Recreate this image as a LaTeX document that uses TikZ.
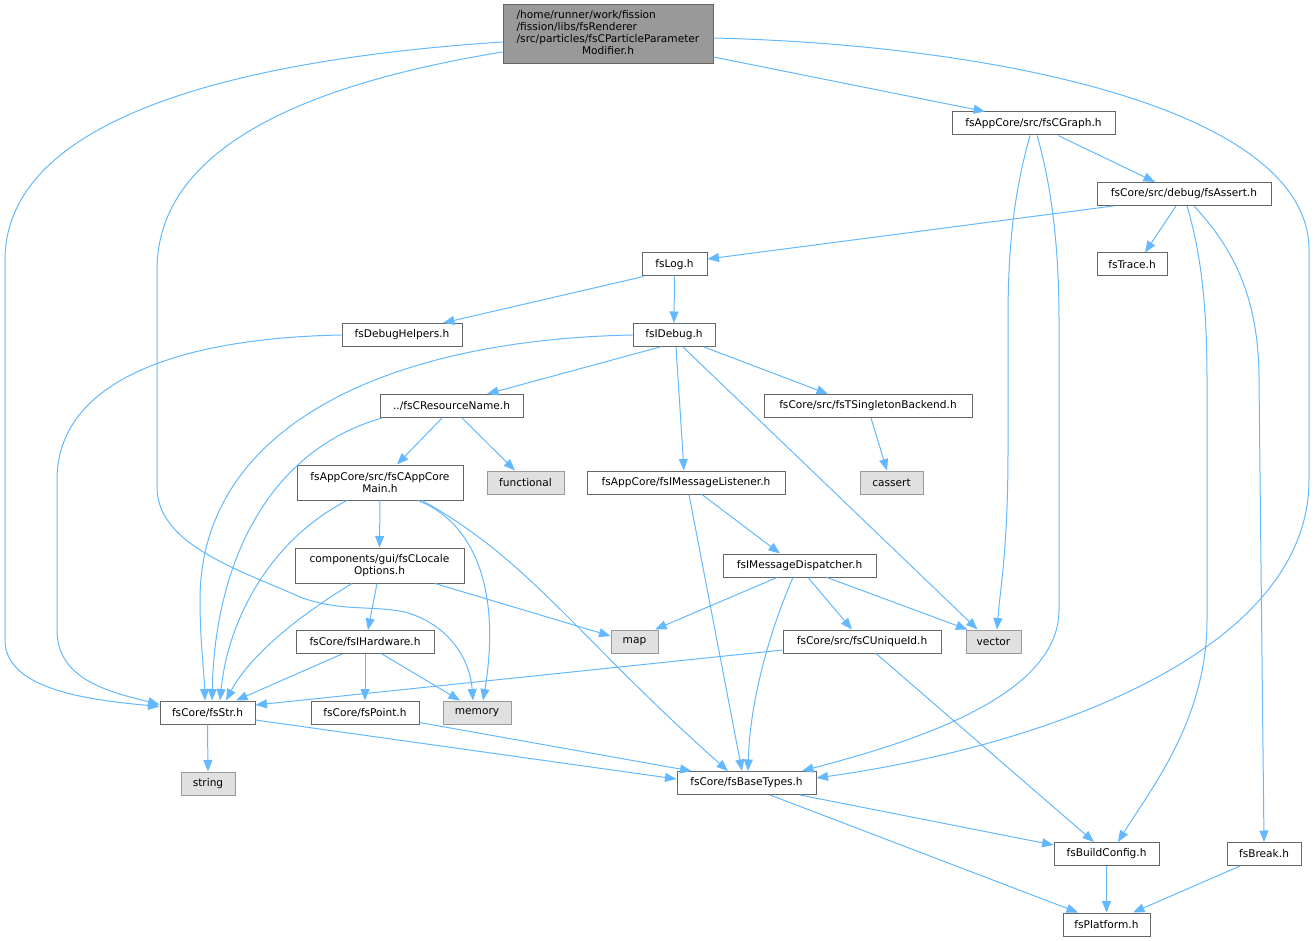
\documentclass[tikz,border=0pt]{standalone}
\usepackage{fontspec}
\setmainfont{DejaVu Sans}
\usepackage{xcolor}
\usetikzlibrary{arrows.meta}
\definecolor{edgeblue}{HTML}{63B8FF}
\definecolor{boxgrey}{HTML}{666666}
\definecolor{rootgrey}{HTML}{999999}
\definecolor{sysgrey}{HTML}{E0E0E0}
\newcommand{\filefont}{\fontsize{10.6}{12}\selectfont}

\begin{document}
\begin{tikzpicture}[
    x=1pt, y=-1pt,
    file/.style={rectangle, draw=boxgrey, fill=white, line width=1pt, minimum height=23pt, inner sep=0pt, align=center, font=\filefont},
    rootfile/.style={file, fill=rootgrey, minimum height=59pt},
    sysfile/.style={file, draw=rootgrey, fill=sysgrey},
    arrow/.style={-{Triangle[length=11.5pt, width=9pt]}, draw=edgeblue, line width=1pt}
]
    \useasboundingbox (0,0) rectangle (1315,941);

    \node[rootfile, minimum width=210pt] (root) at (608,34.5) {\begin{tabular}{@{}l@{}}/home/runner/work/fission\\/fission/libs/fsRenderer\\/src/particles/fsCParticleParameter\\\multicolumn{1}{@{}c@{}}{Modifier.h}\end{tabular}};
    \node[file, minimum width=163pt] (cgraph) at (1033.5,123.5) {fsAppCore/src/fsCGraph.h};
    \node[file, minimum width=174pt] (assert) at (1184,194) {fsCore/src/debug/fsAssert.h};
    \node[file, minimum width=65pt] (log) at (674.5,264.5) {fsLog.h};
    \node[file, minimum width=70pt] (trace) at (1132,264.5) {fsTrace.h};
    \node[file, minimum width=120pt] (debughelpers) at (402,335) {fsDebugHelpers.h};
    \node[file, minimum width=82pt] (idebug) at (674,335) {fsIDebug.h};
    \node[file, minimum width=143pt] (resname) at (451.5,406) {../fsCResourceName.h};
    \node[file, minimum width=208pt] (singleton) at (868,406) {fsCore/src/fsTSingletonBackend.h};
    \node[file, minimum width=166pt, minimum height=35pt] (appmain) at (380,482.5) {fsAppCore/src/fsCAppCore\\Main.h};
    \node[sysfile, minimum width=77pt] (functional) at (525.5,482.5) {functional};
    \node[file, minimum width=198pt] (listener) at (686,482.5) {fsAppCore/fsIMessageListener.h};
    \node[sysfile, minimum width=63pt] (cassert) at (891.5,482.5) {cassert};
    \node[file, minimum width=169pt, minimum height=35pt] (locale) at (379.5,565.5) {components/gui/fsCLocale\\Options.h};
    \node[file, minimum width=153pt] (dispatcher) at (799.5,565.5) {fsIMessageDispatcher.h};
    \node[file, minimum width=138pt] (hardware) at (365,642) {fsCore/fsIHardware.h};
    \node[sysfile, minimum width=47pt] (map) at (634.5,641.5) {map};
    \node[file, minimum width=158pt] (uniqueid) at (862,641.5) {fsCore/src/fsCUniqueId.h};
    \node[sysfile, minimum width=55pt] (vector) at (993.5,641.5) {vector};
    \node[file, minimum width=95pt] (str) at (207.5,712.5) {fsCore/fsStr.h};
    \node[file, minimum width=108pt] (point) at (365,712.5) {fsCore/fsPoint.h};
    \node[sysfile, minimum width=68pt] (memory) at (477,712.5) {memory};
    \node[sysfile, minimum width=54pt] (string) at (208,783.5) {string};
    \node[file, minimum width=139pt] (basetypes) at (746.5,783) {fsCore/fsBaseTypes.h};
    \node[file, minimum width=105pt] (buildconfig) at (1106.5,854) {fsBuildConfig.h};
    \node[file, minimum width=74pt] (break) at (1264,854) {fsBreak.h};
    \node[file, minimum width=87pt] (platform) at (1106.5,924.5) {fsPlatform.h};

    % Edges from the root file
    \draw[arrow] ([yshift=-7.5pt]root.west) .. controls (200,62) and (5,130) .. (5,260) -- (5,640) .. controls (5,690) and (90,700) .. ([yshift=6pt]str.west);
    \draw[arrow] ([yshift=-17.5pt]root.west) .. controls (300,85) and (157,150) .. (157,270) -- (157,487) .. controls (157,545) and (240,570) .. (300,597) .. controls (340,612) and (370,605) .. (405,612) .. controls (450,625) and (470,660) .. ([xshift=-4pt]memory.north);
    \draw[arrow] ([yshift=-22.5pt]root.east) -- ([xshift=-48.5pt]cgraph.north);
    \draw[arrow] ([yshift=-3.5pt]root.east) .. controls (1000,45) and (1309,110) .. (1309,250) -- (1309,480) .. controls (1309,650) and (1050,745) .. ([yshift=5pt]basetypes.east);

    % Upper part
    \draw[arrow] ([xshift=24.5pt]cgraph.south) -- ([xshift=-29pt]assert.north);
    \draw[arrow] ([xshift=-3.5pt]cgraph.south) .. controls (1015,190) and (1008,240) .. (1008,320) -- (1008,450) .. controls (1008,550) and (1000,590) .. ([xshift=3.5pt]vector.north);
    \draw[arrow] ([xshift=3.5pt]cgraph.south) .. controls (1050,180) and (1059,240) .. (1059,320) -- (1059,610) .. controls (1059,700) and (900,745) .. ([xshift=55.5pt]basetypes.north);
    \draw[arrow] ([xshift=-71pt]assert.south) -- ([yshift=5.5pt]log.east);
    \draw[arrow] ([xshift=-8pt]assert.south) -- ([xshift=13pt]trace.north);
    \draw[arrow] ([xshift=3pt]assert.south) .. controls (1200,250) and (1207,300) .. (1207,380) -- (1207,620) .. controls (1207,720) and (1150,790) .. ([xshift=11.5pt]buildconfig.north);
    \draw[arrow] ([xshift=10pt]assert.south) .. controls (1235,250) and (1259,300) .. (1259,380) -- (break.north);
    \draw[arrow] ([xshift=-31pt]log.south) -- ([xshift=41pt]debughelpers.north);
    \draw[arrow] (log.south) -- (idebug.north);
    \draw[arrow] (debughelpers.west) .. controls (180,338) and (57,380) .. (57,480) -- (57,630) .. controls (57,680) and (110,692) .. ([yshift=8pt]str.west);

    % fsIDebug.h
    \draw[arrow] (idebug.west) .. controls (380,340) and (200,430) .. (200,600) .. controls (200,640) and (204,670) .. ([xshift=-2.5pt]str.north);
    \draw[arrow] ([xshift=-14pt]idebug.south) -- ([xshift=35.5pt]resname.north);
    \draw[arrow] ([xshift=2pt]idebug.south) -- ([xshift=-2pt]listener.north);
    \draw[arrow] ([xshift=9pt]idebug.south) -- ([xshift=-16pt]vector.north);
    \draw[arrow] ([xshift=30pt]idebug.south) -- ([xshift=-40pt]singleton.north);

    % Middle part
    \draw[arrow] ([xshift=-69.5pt]resname.south) .. controls (270,450) and (215,560) .. ([xshift=4.5pt]str.north);
    \draw[arrow] ([xshift=-9.5pt]resname.south) -- ([xshift=17pt]appmain.north);
    \draw[arrow] ([xshift=10.5pt]resname.south) -- ([xshift=-10.5pt]functional.north);
    \draw[arrow] ([xshift=3pt]singleton.south) -- ([xshift=-4.5pt]cassert.north);
    \draw[arrow] ([xshift=-33pt]appmain.south) .. controls (270,540) and (228,620) .. ([xshift=12.5pt]str.north);
    \draw[arrow] (appmain.south) -- (locale.north);
    \draw[arrow] ([xshift=38pt]appmain.south) .. controls (480,525) and (500,600) .. ([xshift=6pt]memory.north);
    \draw[arrow] ([xshift=42pt]appmain.south) .. controls (530,560) and (580,640) .. ([xshift=-18.5pt]basetypes.north);
    \draw[arrow] ([xshift=3pt]listener.south) -- ([xshift=-4.5pt]basetypes.north);
    \draw[arrow] ([xshift=16pt]listener.south) -- ([xshift=-19.5pt]dispatcher.north);
    \draw[arrow] ([xshift=-22.5pt]dispatcher.south) -- ([xshift=20.5pt]map.north);
    \draw[arrow] ([xshift=-6.5pt]dispatcher.south) .. controls (770,630) and (750,700) .. ([xshift=1.5pt]basetypes.north);
    \draw[arrow] ([xshift=8.5pt]dispatcher.south) -- ([xshift=-10pt]uniqueid.north);
    \draw[arrow] ([xshift=27.5pt]dispatcher.south) -- ([xshift=2pt]vector.north west);
    \draw[arrow] ([xshift=-27.5pt]locale.south) .. controls (300,615) and (250,655) .. ([xshift=18.5pt]str.north);
    \draw[arrow] ([xshift=-2.5pt]locale.south) -- ([xshift=3pt]hardware.north);
    \draw[arrow] ([xshift=55.5pt]locale.south) -- ([yshift=5.5pt]map.west);

    % Lower part
    \draw[arrow] ([yshift=-8.5pt]uniqueid.west) -- ([yshift=7.5pt]str.east);
    \draw[arrow] ([xshift=14pt]uniqueid.south) -- ([xshift=-12.5pt]buildconfig.north);
    \draw[arrow] ([xshift=-23pt]hardware.south) -- ([xshift=28.5pt]str.north);
    \draw[arrow] (hardware.south) -- (point.north);
    \draw[arrow] ([xshift=17pt]hardware.south) -- ([xshift=-17pt]memory.north);
    \draw[arrow] (str.south) -- (string.north);
    \draw[arrow] ([yshift=-7.5pt]str.east) -- ([yshift=4pt]basetypes.west);
    \draw[arrow] ([yshift=-10pt]point.east) -- ([xshift=15pt]basetypes.north west);
    \draw[arrow] ([xshift=53.5pt]basetypes.south) -- ([yshift=9pt]buildconfig.west);
    \draw[arrow] ([xshift=23.5pt]basetypes.south) -- ([xshift=-28.5pt]platform.north);
    \draw[arrow] (buildconfig.south) -- (platform.north);
    \draw[arrow] ([xshift=-24pt]break.south) -- ([xshift=26.5pt]platform.north);
\end{tikzpicture}
\end{document}
